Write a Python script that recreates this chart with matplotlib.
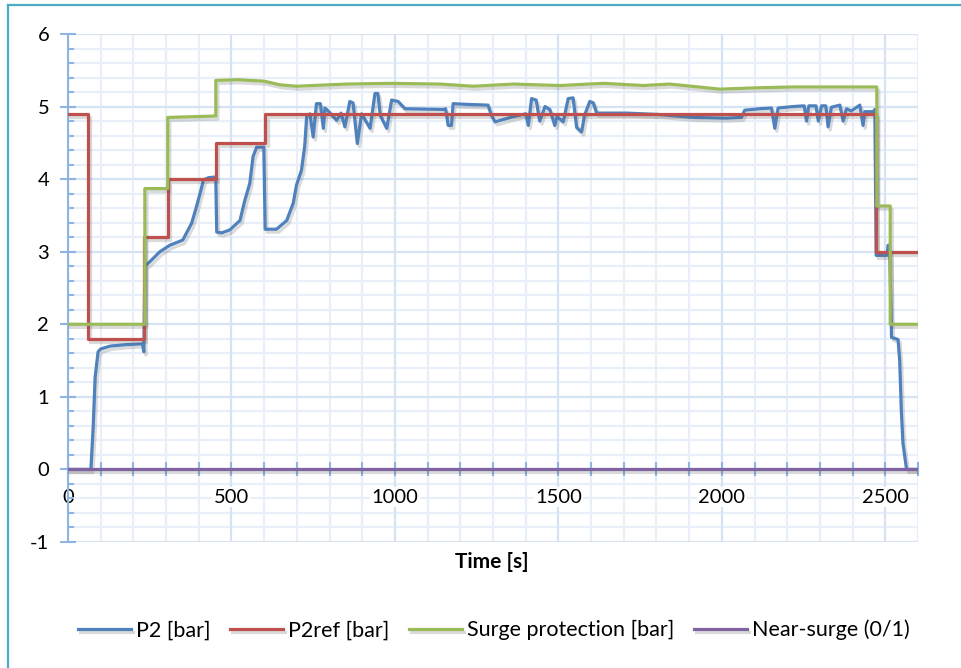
import matplotlib
matplotlib.use("Agg")
import matplotlib.pyplot as plt
import matplotlib.patheffects as pe
from matplotlib.lines import Line2D
from matplotlib.ticker import MultipleLocator

plt.rcParams['font.family'] = ['Lato', 'DejaVu Sans']
plt.rcParams['axes.unicode_minus'] = False

# P2 [bar] - measured pressure
t_p2 = [0, 70, 77, 83, 92, 100, 130, 180, 228, 232, 235, 250, 281, 312, 351, 378,
        393, 409, 414, 430, 452, 455, 470, 495, 526, 541, 556, 566, 577, 599, 603,
        638, 669, 689, 699, 714, 724, 730, 740, 750, 760, 772, 781, 786, 800, 822,
        835, 847, 862, 872, 885, 898, 924, 939, 948, 955, 975, 990, 1010, 1031,
        1148, 1155, 1163, 1173, 1178, 1220, 1285, 1295, 1306, 1362, 1400, 1408,
        1418, 1432, 1443, 1459, 1474, 1489, 1496, 1515, 1530, 1545, 1556, 1571,
        1580, 1596, 1607, 1617, 1708, 1810, 1912, 2014, 2060, 2070, 2116, 2152,
        2162, 2172, 2218, 2252, 2259, 2266, 2288, 2295, 2305, 2318, 2325, 2335,
        2361, 2371, 2381, 2396, 2422, 2432, 2437, 2463, 2468, 2472, 2505, 2509,
        2514, 2519, 2539, 2544, 2549, 2554, 2565, 2600]
p2 = [0.0, 0.0, 0.58, 1.27, 1.62, 1.66, 1.70, 1.72, 1.73, 1.62, 2.80, 2.86, 3.00,
      3.09, 3.16, 3.39, 3.62, 3.89, 3.99, 4.02, 4.03, 3.27, 3.26, 3.30, 3.43, 3.71,
      3.94, 4.31, 4.44, 4.44, 3.31, 3.31, 3.43, 3.67, 3.92, 4.12, 4.45, 4.86, 4.90,
      4.58, 5.04, 5.04, 4.70, 4.98, 4.92, 4.81, 4.91, 4.72, 5.07, 5.05, 4.49, 4.90,
      4.70, 5.18, 5.18, 4.88, 4.70, 5.09, 5.07, 4.97, 4.96, 4.97, 4.74, 4.74, 5.04,
      5.03, 5.02, 4.88, 4.79, 4.86, 4.90, 4.74, 5.11, 5.09, 4.80, 5.00, 4.96, 4.74,
      4.86, 4.79, 5.11, 5.12, 4.71, 4.65, 4.88, 5.07, 5.05, 4.91, 4.91, 4.89, 4.85,
      4.84, 4.85, 4.95, 4.97, 4.98, 4.70, 4.98, 5.00, 5.01, 4.80, 5.01, 5.01, 4.80,
      5.01, 5.01, 4.72, 4.99, 5.02, 4.80, 4.97, 4.94, 5.02, 4.74, 4.93, 4.93, 4.96,
      2.95, 2.95, 3.09, 2.90, 1.82, 1.79, 1.50, 0.81, 0.36, 0.0, 0.0]

# P2ref [bar] - setpoint steps
t_ref = [0, 60, 232, 305, 453, 604, 2471, 2600]
p2ref = [4.9, 1.8, 3.2, 4.0, 4.5, 4.9, 3.0, 3.0]

# Surge protection [bar]
t_surge = [0, 235, 235, 305, 305, 452, 452, 520, 600, 648, 699, 800, 852, 985,
           1138, 1240, 1362, 1505, 1638, 1760, 1841, 1994, 2116, 2218, 2371,
           2474, 2474, 2515, 2515, 2600]
surge = [2.0, 2.0, 3.87, 3.87, 4.85, 4.87, 5.36, 5.37, 5.35, 5.30, 5.28, 5.30,
         5.31, 5.32, 5.31, 5.28, 5.31, 5.29, 5.32, 5.29, 5.31, 5.24, 5.26, 5.27,
         5.27, 5.27, 3.63, 3.63, 2.0, 2.0]

# Near-surge (0/1)
t_near = [0, 2600]
near = [0, 0]

fig = plt.figure(figsize=(9.62, 6.68), dpi=100)
ax = fig.add_axes([68 / 962, 126 / 668, (918 - 68) / 962, (542 - 34) / 668])

shadow = [pe.SimpleLineShadow(offset=(1.5, -2.2), shadow_color='0.35', alpha=0.22),
          pe.Normal()]
lw = 2.3
ax.plot(t_p2, p2, color='#4F81BD', lw=lw, label='P2 [bar]', path_effects=shadow,
        solid_joinstyle='round', zorder=3)
ax.step(t_ref, p2ref, where='post', color='#C0504D', lw=lw, label='P2ref [bar]',
        path_effects=shadow, zorder=4)
ax.plot(t_surge, surge, color='#9BBB59', lw=lw, label='Surge protection [bar]',
        path_effects=shadow, zorder=4)
ax.plot(t_near, near, color='#8064A2', lw=lw, label='Near-surge (0/1)',
        path_effects=shadow, zorder=5)

ax.set_xlim(0, 2600)
ax.set_ylim(-1, 6)
ax.xaxis.set_major_locator(MultipleLocator(500))
ax.xaxis.set_minor_locator(MultipleLocator(100))
ax.yaxis.set_major_locator(MultipleLocator(1))
ax.yaxis.set_minor_locator(MultipleLocator(0.2))

# gridlines drawn underneath, so the tick labels can mask them
major_col, minor_col = '#D6E3F3', '#E8EFF8'
for x in ax.get_xticks(minor=True):
    ax.axvline(x, color=minor_col, lw=1.6, zorder=0.1)
for y in ax.get_yticks(minor=True):
    ax.axhline(y, color=minor_col, lw=1.6, zorder=0.1)
for x in ax.get_xticks():
    ax.axvline(x, color=major_col, lw=1.6, zorder=0.2)
for y in ax.get_yticks():
    ax.axhline(y, color=major_col, lw=1.6, zorder=0.2)
ax.set_xlim(0, 2600)
ax.set_ylim(-1, 6)

axis_col = '#8EB4E3'
for s in ['top', 'right']:
    ax.spines[s].set_visible(False)
ax.spines['bottom'].set_position(('data', 0))
ax.spines['bottom'].set_color(axis_col)
ax.spines['left'].set_color(axis_col)
ax.spines['left'].set_linewidth(1.5)

ax.tick_params(axis='y', which='major', direction='inout', length=11, width=1.5,
               color=axis_col, labelsize=14.5, pad=8)
ax.tick_params(axis='y', which='minor', direction='in', length=4.5, width=1.5,
               color=axis_col)
ax.tick_params(axis='x', which='both', direction='inout', length=10, width=1.5,
               color=axis_col, labelsize=14.5, pad=9)
for lab in ax.get_xticklabels():
    lab.set_bbox(dict(facecolor='white', edgecolor='none', pad=1))

ax.set_xlabel('Time [s]', fontsize=15, fontweight='bold')
ax.xaxis.set_label_coords(492 / 962, (668 - 562) / 668, transform=fig.transFigure)
ax.xaxis.label.set_verticalalignment('center')

fig.legend(loc='center', bbox_to_anchor=(494 / 962, (668 - 630) / 668), ncol=4,
           frameon=False, fontsize=15.5, handlelength=2.45, handletextpad=0.25,
           columnspacing=0.9)

# chart frame (teal border, top and left)
fig.add_artist(Line2D([8 / 962, 8 / 962], [0, 1 - 5 / 668], transform=fig.transFigure,
                      color='#4BACC6', lw=1.6))
fig.add_artist(Line2D([8 / 962, 1], [1 - 5 / 668, 1 - 5 / 668], transform=fig.transFigure,
                      color='#4BACC6', lw=1.6))

fig.savefig('out.png', dpi=100)
